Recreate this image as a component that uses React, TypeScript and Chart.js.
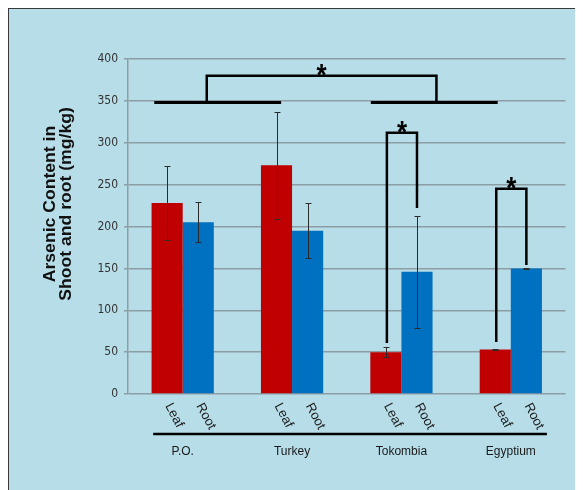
import React, { useEffect, useRef } from "react";
import { Chart, registerables } from "chart.js";

Chart.register(...registerables);

const groups = ["P.O.", "Turkey", "Tokombia", "Egyptium"];
const partLabels = ["Leaf", "Root"];
const leafValues = [228, 273, 50, 53];
const rootValues = [205, 195, 146, 150];
const leafErrors = [44, 64, 6, 1];
const rootErrors = [24, 33, 67, 1];
const yMin = 0;
const yMax = 400;
const yStep = 50;
const yTitleLines = ["Arsenic Content in", "Shoot and root (mg/kg)"];

// significance: pairwise brackets within a group (data units)
const pairGroups = [2, 3];
const pairLeftFoot = [61, 62];
const pairRightFoot = [222, 154];
const pairTop = [312, 245];
// between-group bracket (data units / category index)
const spanLevel = 348;
const spanTop = 380;
const spanRanges = [
  [-0.26, 0.9],
  [1.72, 2.88],
];
const spanFeet = [0.22, 2.32];

const RED = "#c00000";
const BLUE = "#0070c0";
const BG = "#b6dde8";
const GRID = "#8d9da4";
const FONT = 'Arial, "Liberation Sans", sans-serif';

const overlay = {
  id: "overlay",
  afterDatasetsDraw(chart: any) {
    const { ctx } = chart;
    const xs = chart.scales.x;
    const ys = chart.scales.y;
    const y = (v: number) => ys.getPixelForValue(v);
    const metaL = chart.getDatasetMeta(0);
    const metaR = chart.getDatasetMeta(1);

    // error bars
    ctx.save();
    ctx.strokeStyle = "#2b2b2b";
    ctx.lineWidth = 1;
    const errSets = [
      [metaL, leafValues, leafErrors],
      [metaR, rootValues, rootErrors],
    ] as any[];
    errSets.forEach(([meta, vals, errs]) => {
      meta.data.forEach((bar: any, j: number) => {
        const cx = Math.round(bar.x) + 0.5;
        const t = Math.round(y(vals[j] + errs[j])) + 0.5;
        const b = Math.round(y(vals[j] - errs[j])) + 0.5;
        ctx.beginPath();
        ctx.moveTo(cx, t);
        ctx.lineTo(cx, b);
        ctx.moveTo(cx - 3, t);
        ctx.lineTo(cx + 3, t);
        ctx.moveTo(cx - 3, b);
        ctx.lineTo(cx + 3, b);
        ctx.stroke();
      });
    });
    ctx.restore();

    const star = (x: number, yTop: number) => {
      ctx.save();
      ctx.fillStyle = "#000";
      ctx.font = `bold 26px ${FONT}`;
      ctx.textAlign = "center";
      ctx.textBaseline = "alphabetic";
      ctx.translate(x, yTop - 3);
      ctx.scale(1, 1.2);
      ctx.fillText("*", 0, 0.42 * 26);
      ctx.restore();
    };

    // pair brackets
    ctx.save();
    ctx.strokeStyle = "#000";
    ctx.lineWidth = 2.5;
    ctx.lineJoin = "miter";
    pairGroups.forEach((g, k) => {
      const xl = metaL.data[g].x + 1;
      const xr = metaR.data[g].x;
      ctx.beginPath();
      ctx.moveTo(xl, y(pairLeftFoot[k]));
      ctx.lineTo(xl, y(pairTop[k]));
      ctx.lineTo(xr, y(pairTop[k]));
      ctx.lineTo(xr, y(pairRightFoot[k]));
      ctx.stroke();
      star((xl + xr) / 2, y(pairTop[k]));
    });

    // between-group bracket
    ctx.lineWidth = 3;
    spanRanges.forEach(([a, b]) => {
      ctx.beginPath();
      ctx.moveTo(xs.getPixelForValue(a), y(spanLevel));
      ctx.lineTo(xs.getPixelForValue(b), y(spanLevel));
      ctx.stroke();
    });
    ctx.lineWidth = 2.5;
    const f0 = xs.getPixelForValue(spanFeet[0]);
    const f1 = xs.getPixelForValue(spanFeet[1]);
    ctx.beginPath();
    ctx.moveTo(f0, y(spanLevel));
    ctx.lineTo(f0, y(spanTop));
    ctx.lineTo(f1, y(spanTop));
    ctx.lineTo(f1, y(spanLevel));
    ctx.stroke();
    ctx.restore();
    star((f0 + f1) / 2, y(spanTop));

    // Leaf / Root labels
    const bottom = chart.chartArea.bottom;
    ctx.save();
    ctx.fillStyle = "#1a1a1a";
    ctx.font = `12px ${FONT}`;
    ctx.textAlign = "left";
    ctx.textBaseline = "middle";
    [metaL, metaR].forEach((meta: any, i: number) => {
      meta.data.forEach((bar: any) => {
        ctx.save();
        ctx.translate(bar.x + 1, bottom + 10);
        ctx.rotate((62 * Math.PI) / 180);
        ctx.scale(1.1, 1.1);
        ctx.fillText(partLabels[i], 0, 0);
        ctx.restore();
      });
    });
    ctx.restore();

    // black separator line under Leaf/Root labels
    ctx.save();
    ctx.strokeStyle = "#000";
    ctx.lineWidth = 2.5;
    ctx.beginPath();
    ctx.moveTo(xs.getPixelForValue(-0.27), bottom + 40);
    ctx.lineTo(xs.getPixelForValue(3.33), bottom + 40);
    ctx.stroke();
    ctx.restore();

    // y-axis title
    ctx.save();
    ctx.fillStyle = "#111";
    ctx.font = `bold 16px ${FONT}`;
    ctx.textAlign = "center";
    ctx.textBaseline = "alphabetic";
    ctx.translate(0, 195);
    ctx.rotate(-Math.PI / 2);
    ctx.scale(1.1, 1);
    ctx.fillText(yTitleLines[0], 0, 46);
    ctx.fillText(yTitleLines[1], 0, 61.5);
    ctx.restore();
  },
};

export default function App() {
  const ref = useRef<HTMLCanvasElement | null>(null);
  useEffect(() => {
    document.body.style.overflow = "hidden";
    if (!ref.current) return;
    const chart = new Chart(ref.current, {
      type: "bar",
      data: {
        labels: groups,
        datasets: [
          {
            label: partLabels[0],
            data: leafValues,
            backgroundColor: RED,
            categoryPercentage: 0.569,
            barPercentage: 1,
          },
          {
            label: partLabels[1],
            data: rootValues,
            backgroundColor: BLUE,
            categoryPercentage: 0.569,
            barPercentage: 1,
          },
        ],
      },
      options: {
        animation: false,
        responsive: false,
        maintainAspectRatio: false,
        layout: { padding: { top: 50, right: 17.5, left: 0, bottom: 0 } },
        plugins: {
          legend: { display: false },
          tooltip: { enabled: false },
        },
        scales: {
          x: {
            grid: { display: false, drawTicks: false },
            border: { display: false },
            ticks: {
              color: "#1a1a1a",
              font: { family: FONT, size: 12 },
              padding: 50,
              maxRotation: 0,
            },
            afterFit: (s: any) => {
              s.height = 96;
              s.paddingLeft = 0;
              s.paddingRight = 0;
            },
          },
          y: {
            min: yMin,
            max: yMax,
            ticks: {
              stepSize: yStep,
              color: "#333",
              font: { family: '"Liberation Sans Narrow", "DejaVu Sans Condensed", Arial, sans-serif', size: 12 },
              padding: 6,
            },
            grid: { color: GRID, lineWidth: 1.5, tickLength: 4, drawTicks: true },
            border: { color: GRID, width: 1.5 },
            afterFit: (s: any) => {
              s.width = 119;
            },
          },
        },
      },
      plugins: [overlay],
    });
    return () => chart.destroy();
  }, []);

  return (
    <div
      style={{
        width: 575,
        height: 482,
        boxSizing: "border-box",
        borderLeft: "1px solid #3a3a3a",
        borderTop: "1px solid #3a3a3a",
        background: BG,
      }}
    >
      <canvas ref={ref} width={574} height={481} style={{ display: "block" }} />
    </div>
  );
}
